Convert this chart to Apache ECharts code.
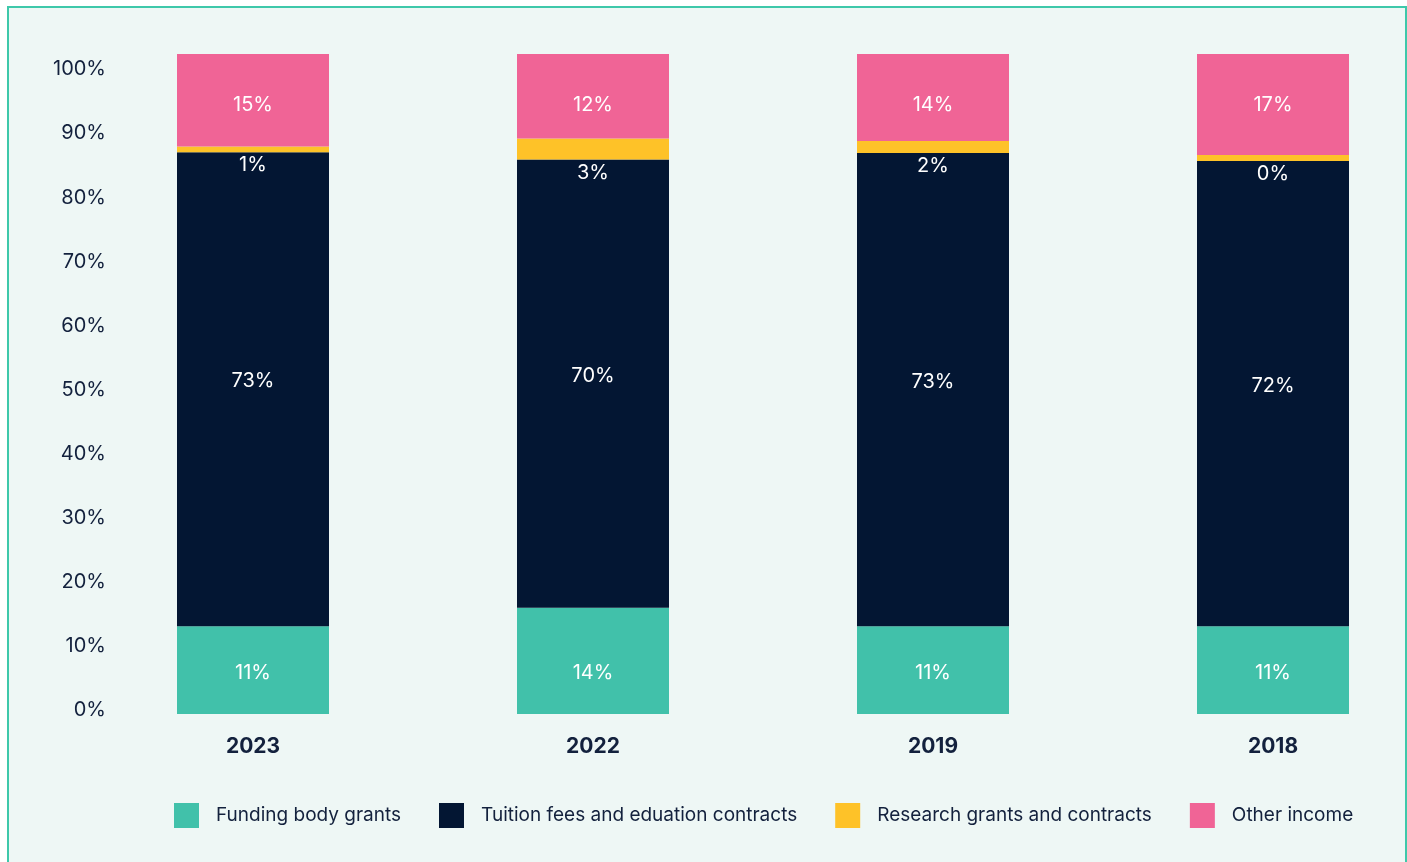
<!DOCTYPE html>
<html>
<head>
<meta charset="utf-8">
<title>Income mix</title>
<script src="https://cdn.jsdelivr.net/npm/echarts@6/dist/echarts.min.js"></script>
<style>
	html, body { margin: 0; padding: 0; background: #fff; }
	#frame {
		position: absolute; left: 7px; top: 6px; width: 1396px; height: 880px;
		background: #eef7f5;
		border-left: 2px solid #3ec8aa; border-top: 2px solid #3ec8aa; border-right: 2px solid #3ec8aa;
	}
	#main { position: absolute; left: 0; top: 0; width: 1407px; height: 862px; }
</style>
</head>
<body>
<div id="frame"></div>
<div id="main"></div>
<script>
/*年份*/
var years = ['2023', '2022', '2019', '2018'];

/*柱子高度（从图上量的，合计100）*/
var funding = [13.3, 16.1, 13.3, 13.3];
var tuition = [71.8, 67.9, 71.7, 70.5];
var research = [0.9, 3.2, 1.8, 0.9];
var other = [14.0, 12.8, 13.2, 15.3];

/*图上印的百分比（和柱高不完全一致）*/
var funding_shown = [11, 14, 11, 11];
var tuition_shown = [73, 70, 73, 72];
var research_shown = [1, 3, 2, 0];
var other_shown = [15, 12, 14, 17];

/*y轴刻度*/
var y_ticks = [0, 10, 20, 30, 40, 50, 60, 70, 80, 90, 100];

var series_names = ['Funding body grants', 'Tuition fees and eduation contracts', 'Research grants and contracts', 'Other income'];
var item_color_arr = ['#41c1aa', '#031633', '#fec228', '#f06496'];

var font = 'Inter, "Noto Sans", sans-serif';
var ink = '#13213d';

function bar_label(shown, pos, dist, offset) {
	return {
		show: true,
		position: pos,
		distance: dist,
		offset: offset || [0, 0],
		color: '#fff',
		fontFamily: font,
		fontSize: 20,
		formatter: function (p) {
			return shown[p.dataIndex] + '%';
		}
	};
}

function make_series(i, data, label) {
	return {
		name: series_names[i],
		type: 'bar',
		stack: 'total',
		yAxisIndex: 0,
		barWidth: 152,
		itemStyle: { color: item_color_arr[i] },
		label: label,
		data: data
	};
}

var chart = echarts.init(document.getElementById('main'));

chart.setOption({
	animation: false,
	textStyle: { fontFamily: font },
	grid: { left: 253, right: 134, top: 54, bottom: 148 },
	legend: {
		left: 169,
		top: 798,
		icon: 'rect',
		itemWidth: 25,
		itemHeight: 25,
		itemGap: 38,
		textStyle: { fontFamily: font, fontSize: 19, color: ink, padding: [5, 0, 0, 12] },
		data: series_names
	},
	xAxis: {
		type: 'category',
		data: years,
		boundaryGap: false,
		axisLine: { show: false },
		axisTick: { show: false },
		axisLabel: { margin: 22, fontSize: 21, fontWeight: 'bold', color: ink, fontFamily: font }
	},
	yAxis: [{
		type: 'value',
		min: 0,
		max: 100,
		show: false
	}, {
		/*刻度文字的位置和柱子略有错开*/
		type: 'value',
		position: 'left',
		min: -0.58,
		max: 102.39,
		axisLine: { show: false },
		axisTick: { show: false },
		splitLine: { show: false },
		axisLabel: {
			customValues: y_ticks,
			formatter: '{value}%',
			margin: 147,
			fontSize: 20,
			color: ink,
			fontFamily: font
		}
	}],
	series: [
		make_series(0, funding, bar_label(funding_shown, 'insideBottom', 31)),
		make_series(1, tuition, bar_label(tuition_shown, 'inside', 5, [0, -8])),
		make_series(2, research, bar_label(research_shown, 'bottom', 3)),
		make_series(3, other, bar_label(other_shown, 'insideTop', 41))
	]
});
</script>
</body>
</html>
